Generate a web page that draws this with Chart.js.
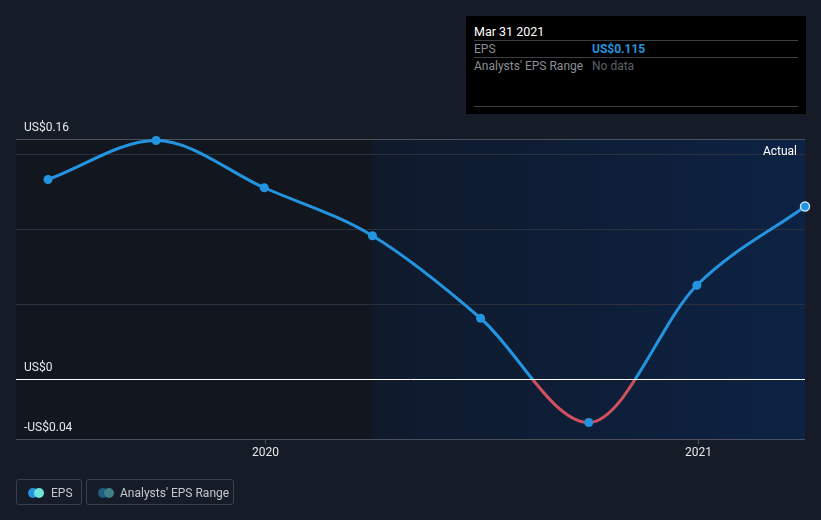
<!DOCTYPE html>
<html>
<head>
<meta charset="utf-8">
<script src="https://cdn.jsdelivr.net/npm/chart.js@4.4.1/dist/chart.umd.min.js"></script>
<style>
  html, body { margin: 0; padding: 0; background: #161c27; }
  body { width: 821px; height: 520px; position: relative; overflow: hidden; font-family: Roboto, "Noto Sans", sans-serif; }
  #wrap { position: absolute; left: 0; top: 0; width: 821px; height: 520px; }
  .tip { position: absolute; left: 466px; top: 16px; width: 340px; height: 98px; background: #000; font-size: 12px; }
  .tip .title { position: absolute; left: 8px; top: 8px; color: #fff; font-size: 12.5px; }
  .tip .row { position: absolute; left: 8px; right: 8px; border-top: 1px solid #3c3f45; height: 16px; }
  .tip .row span { position: absolute; top: 1px; }
  .tip .k { left: 0; color: #8a8e95; }
  .tip .v { left: 118px; }
  .legend { position: absolute; top: 479px; height: 26px; border: 1px solid #3a404c; border-radius: 3px; color: #c4c8ce; font-size: 12px; line-height: 26px; box-sizing: border-box; }
  .dots { position: absolute; top: 8px; left: 11px; width: 16px; height: 10px; }
  .dots i { position: absolute; top: 0; width: 10px; height: 10px; border-radius: 50%; }
</style>
</head>
<body>
<div id="wrap"><canvas id="epsChart" width="821" height="520"></canvas></div>

<div class="tip">
  <div class="title" id="tipTitle"></div>
  <div class="row" style="top:24px"><span class="k">EPS</span><span class="v" id="tipEps" style="color:#2394df;font-weight:bold"></span></div>
  <div class="row" style="top:41px"><span class="k">Analysts' EPS Range</span><span class="v" style="color:#5d6168">No data</span></div>
  <div class="row" style="top:90px"></div>
</div>

<div class="legend" style="left:16px;width:66px">
  <div class="dots"><i style="left:0;background:#2394df"></i><i style="left:6px;background:#6de3dc"></i></div>
  <span style="position:absolute;left:34px">EPS</span>
</div>
<div class="legend" style="left:86px;width:148px">
  <div class="dots"><i style="left:0;background:#1f5c86"></i><i style="left:6px;background:#3f7f86"></i></div>
  <span style="position:absolute;left:33px">Analysts' EPS Range</span>
</div>

<script>
// データ（四半期末ごとのEPS）
const periodLabels = ['Jun 30 2019', 'Sep 30 2019', 'Dec 31 2019', 'Mar 31 2020', 'Jun 30 2020', 'Sep 30 2020', 'Dec 31 2020', 'Mar 31 2021'];
const epsValues = [0.133, 0.159, 0.1275, 0.0955, 0.0405, -0.029, 0.0625, 0.115];
const yGridValues = [-0.04, 0, 0.05, 0.1, 0.15, 0.16];
const yLabelValues = [0.16, 0, -0.04];
const yearTicks = [2020, 2021];
const forecastStart = 'Mar 31 2020';

const months = { Mar: 3, Jun: 6, Sep: 9, Dec: 12 };
function toYear(label) {
    const [m, , y] = label.split(' ');
    return Number(y) + months[m] / 12;
}
function fmt(v) {
    return (v < 0 ? '-' : '') + 'US$' + Math.abs(v).toString();
}

const points = periodLabels.map((l, i) => ({ x: toYear(l), y: epsValues[i] }));
const lastIdx = periodLabels.length - 1;
document.getElementById('tipTitle').textContent = periodLabels[lastIdx];
document.getElementById('tipEps').textContent = 'US$' + epsValues[lastIdx].toFixed(3);

const BLUE = '#2394df';
const RED = '#d0505f';

// 背景と軸ラベルを描くプラグイン
const decor = {
    id: 'decor',
    beforeDraw(chart) {
        const { ctx, chartArea: a, scales: { x } } = chart;
        const split = x.getPixelForValue(toYear(forecastStart));
        ctx.save();
        ctx.fillStyle = '#12161f';
        ctx.fillRect(a.left, a.top, split - a.left, a.bottom - a.top);
        const g = ctx.createLinearGradient(split, 0, a.right, 0);
        g.addColorStop(0, '#0f1a2b');
        g.addColorStop(1, '#0d2244');
        ctx.fillStyle = g;
        ctx.fillRect(split, a.top, a.right - split, a.bottom - a.top);
        ctx.restore();
    },
    afterDraw(chart) {
        const { ctx, chartArea: a, scales: { x, y } } = chart;
        ctx.save();
        // 0ライン
        const z = y.getPixelForValue(0);
        ctx.strokeStyle = '#ffffff';
        ctx.lineWidth = 1;
        ctx.beginPath();
        ctx.moveTo(a.left, Math.round(z) + 0.5);
        ctx.lineTo(a.right, Math.round(z) + 0.5);
        ctx.stroke();
        // 下の軸
        ctx.strokeStyle = '#4a505c';
        ctx.beginPath();
        ctx.moveTo(a.left, a.bottom + 0.5);
        ctx.lineTo(a.right, a.bottom + 0.5);
        ctx.stroke();
        // Y軸ラベル
        ctx.fillStyle = '#e6e8eb';
        ctx.font = '12px Roboto';
        ctx.textBaseline = 'middle';
        ctx.textAlign = 'left';
        yLabelValues.forEach(v => {
            ctx.fillText(fmt(v), a.left + 8, y.getPixelForValue(v) - 11);
        });
        // 年ラベル
        ctx.textAlign = 'center';
        yearTicks.forEach(yr => {
            const px = Math.round(x.getPixelForValue(yr)) + 1.5;
            ctx.strokeStyle = '#4a505c';
            ctx.beginPath();
            ctx.moveTo(px, a.bottom);
            ctx.lineTo(px, a.bottom + 5);
            ctx.stroke();
            ctx.fillText(String(yr), px, a.bottom + 14);
        });
        // Actual
        ctx.textAlign = 'right';
        ctx.fillStyle = '#ffffff';
        ctx.fillText('Actual', a.right - 8, a.top + 13);
        ctx.restore();
    }
};

function lineColor(c) {
    const { chart } = c;
    const a = chart.chartArea;
    if (!a) return BLUE;
    const z = chart.scales.y.getPixelForValue(0);
    const stop = (z - a.top) / (a.bottom - a.top);
    const g = chart.ctx.createLinearGradient(0, a.top, 0, a.bottom);
    g.addColorStop(0, BLUE);
    g.addColorStop(stop, BLUE);
    g.addColorStop(stop, RED);
    g.addColorStop(1, RED);
    return g;
}

const firstX = toYear(periodLabels[0]);
const lastX = toYear(periodLabels[lastIdx]);

new Chart(document.getElementById('epsChart').getContext('2d'), {
    type: 'line',
    data: {
        datasets: [{
            label: 'EPS',
            data: points,
            borderColor: lineColor,
            borderWidth: 3,
            cubicInterpolationMode: 'monotone',
            pointRadius: 4.5,
            pointBackgroundColor: BLUE,
            pointBorderColor: points.map((p, i) => i === lastIdx ? '#bfe0f7' : BLUE),
            pointBorderWidth: points.map((p, i) => i === lastIdx ? 1.5 : 0),
            clip: false
        }]
    },
    options: {
        responsive: false,
        animation: false,
        layout: { padding: { left: 16, right: 16, top: 139, bottom: 81 } },
        plugins: { legend: { display: false }, tooltip: { enabled: false } },
        scales: {
            x: {
                type: 'linear',
                display: false,
                min: firstX - (lastX - firstX) * 32 / 757,
                max: lastX
            },
            y: {
                min: -0.04,
                max: 0.16,
                afterBuildTicks: s => { s.ticks = yGridValues.map(v => ({ value: v })); },
                ticks: { display: false },
                border: { display: false },
                grid: {
                    drawTicks: false,
                    color: c => c.tick.value === 0.16 ? '#4a505e' : (c.tick.value === -0.04 || c.tick.value === 0 ? 'rgba(0,0,0,0)' : '#2b313d'),
                    lineWidth: 1
                }
            }
        }
    },
    plugins: [decor]
});
</script>
</body>
</html>
